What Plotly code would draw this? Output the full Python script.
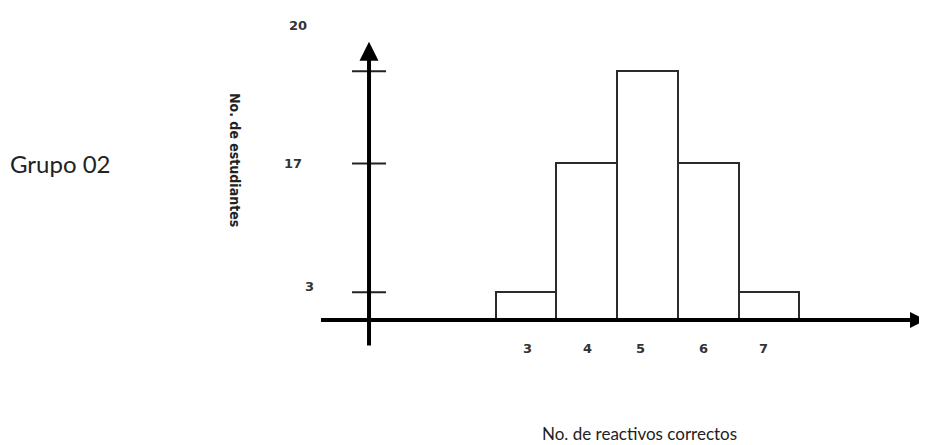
import plotly.graph_objects as go

# ---- data ----
categories = [3, 4, 5, 6, 7]              # No. de reactivos correctos
students = [3, 17, 27, 17, 3]             # No. de estudiantes (bar heights on drawn scale)
y_tick_values = [3, 17, 27]
y_tick_labels = ["3", "17", "20"]
group_label = "Grupo 02"
x_title = "No. de reactivos correctos"
y_title = "No. de estudiantes"

# ---- layout constants ----
OFF = 8                    # page body margin
W, H = 927 - OFF, 445 - OFF
x_range = [-5.527, 9.601]
y_range = [-13.572, 33.876]
axis_x = 0.416             # where the vertical axis crosses
tick_half = 0.28
ylab_dx = [-60, -76, -71]  # offsets of y tick labels (px) for 3, 17, 20
ylab_dy = [6, 0, 46]
xlab_dx = [1, 1, -7, -5, -5]


def px(s):
    return (s - OFF) / W


def py(s):
    return 1 - (s - OFF) / H


fig = go.Figure()
fig.add_trace(go.Bar(
    x=categories, y=students, width=1.0,
    marker=dict(color="white", line=dict(color="#2b2b2b", width=2)),
    hoverinfo="skip", showlegend=False,
))

ann = []
# vertical axis with arrow
ann.append(dict(x=axis_x, y=30.2, ax=axis_x, ay=-2.93, xref="x", yref="y",
                axref="x", ayref="y", text="", showarrow=True,
                arrowhead=2, arrowsize=0.95, arrowwidth=4, arrowcolor="black"))
# horizontal axis with arrow
ann.append(dict(x=9.585, y=0, ax=-0.40, ay=0, xref="x", yref="y",
                axref="x", ayref="y", text="", showarrow=True,
                arrowhead=2, arrowsize=0.8, arrowwidth=4, arrowcolor="black"))

shapes = []
for v in y_tick_values:
    shapes.append(dict(type="line", xref="x", yref="y",
                       x0=axis_x - tick_half, x1=axis_x + tick_half, y0=v, y1=v,
                       line=dict(color="#222", width=2)))

for v, lab, dx, dy in zip(y_tick_values, y_tick_labels, ylab_dx, ylab_dy):
    ann.append(dict(x=axis_x, y=v, xref="x", yref="y", text=f"<b>{lab}</b>",
                    showarrow=False, xanchor="center", yanchor="middle",
                    xshift=dx, yshift=dy,
                    font=dict(family="DejaVu Sans", size=13, color="#333")))

for c, dx in zip(categories, xlab_dx):
    ann.append(dict(x=c, y=0, xref="x", yref="y", text=f"<b>{c}</b>",
                    showarrow=False, xanchor="center", yanchor="middle",
                    xshift=dx, yshift=-28,
                    font=dict(family="DejaVu Sans", size=13, color="#333")))

ann.append(dict(x=px(235), y=py(160), xref="paper", yref="paper",
                text=f"<b>{y_title}</b>", textangle=90, showarrow=False,
                xanchor="center", yanchor="middle",
                font=dict(family="DejaVu Sans Condensed, DejaVu Sans",
                          size=14, color="#222")))
ann.append(dict(x=px(8), y=py(163), xref="paper", yref="paper",
                text=group_label, showarrow=False, xanchor="left", yanchor="middle",
                font=dict(family="Lato", size=24, color="#222")))
ann.append(dict(x=px(540), y=py(433), xref="paper", yref="paper",
                text=x_title, showarrow=False, xanchor="left", yanchor="middle",
                font=dict(family="Lato", size=17, color="#222")))

fig.update_layout(
    width=W, height=H, margin=dict(l=0, r=0, t=0, b=0),
    paper_bgcolor="white", plot_bgcolor="white",
    bargap=0,
    xaxis=dict(range=x_range, visible=False, fixedrange=True),
    yaxis=dict(range=y_range, visible=False, fixedrange=True),
    annotations=ann, shapes=shapes,
)

fig.write_html("out.html")
